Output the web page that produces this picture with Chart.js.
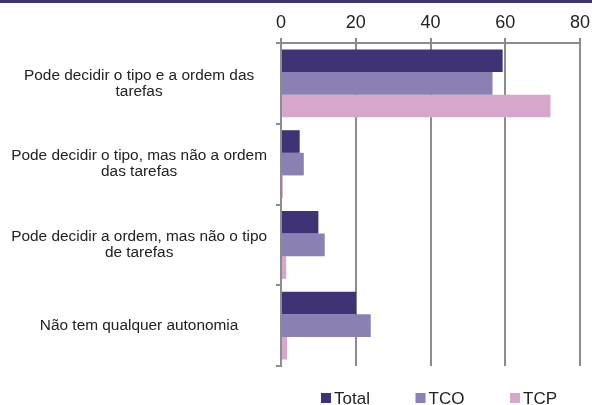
<!DOCTYPE html>
<html>
<head>
<meta charset="utf-8">
<script src="https://cdn.jsdelivr.net/npm/chart.js@4.4.0/dist/chart.umd.min.js"></script>
<style>
  html, body { margin: 0; padding: 0; background: #fff; }
  #wrap { position: relative; width: 592px; height: 405px; }
  #band { position: absolute; left: 0; top: 0; width: 592px; height: 3px; background: #3f3275; }
</style>
</head>
<body>
<div id="wrap">
  <canvas id="chart" width="592" height="405"></canvas>
  <div id="band"></div>
</div>
<script>
// data
const categories = [
  ["Pode decidir o tipo e a ordem das", "tarefas"],
  ["Pode decidir o tipo, mas não a ordem", "das tarefas"],
  ["Pode decidir a ordem, mas não o tipo", "de tarefas"],
  "Não tem qualquer autonomia"
];
const seriesNames = ["Total", "TCO", "TCP"];
const totalValues = [59.3, 5.0, 10.0, 20.1];
const tcoValues = [56.6, 6.1, 11.7, 24.0];
const tcpValues = [72.1, 0.5, 1.4, 1.6];
const xTicks = [0, 20, 40, 60, 80];

const colors = ["#3f3275", "#8b80b3", "#d7a6cb"];
const gridGray = "#8c8c8c";
const fontFamily = "'Liberation Sans', Arial, sans-serif";

Chart.defaults.font.family = fontFamily;
Chart.defaults.color = "#222";

// legend drawn as one row under the plot, like the original
const legendRow = {
  id: "legendRow",
  afterDraw(chart) {
    const ctx = chart.ctx;
    const area = chart.chartArea;
    ctx.save();
    ctx.font = "17px " + fontFamily;
    ctx.textBaseline = "alphabetic";
    chart.data.datasets.forEach((ds, i) => {
      const x = area.left + 40 + i * 94.5;
      ctx.fillStyle = ds.backgroundColor;
      ctx.fillRect(x, 393, 10, 10);
      ctx.fillStyle = "#222";
      ctx.fillText(ds.label, x + 13, 404);
    });
    ctx.restore();
  }
};

const seriesValues = [totalValues, tcoValues, tcpValues];

new Chart(document.getElementById("chart").getContext("2d"), {
  type: "bar",
  data: {
    labels: categories,
    datasets: seriesNames.map((name, i) => ({
      label: name,
      data: seriesValues[i],
      backgroundColor: colors[i],
      borderWidth: 0,
      barPercentage: 1,
      categoryPercentage: 0.84
    }))
  },
  options: {
    indexAxis: "y",
    responsive: false,
    animation: false,
    layout: { padding: { top: 0, right: 12, bottom: 39, left: 0 } },
    plugins: {
      legend: { display: false },
      tooltip: { enabled: false }
    },
    scales: {
      x: {
        type: "linear",
        position: "top",
        min: xTicks[0],
        max: xTicks[xTicks.length - 1],
        afterBuildTicks: (scale) => {
          scale.ticks = xTicks.map((v) => ({ value: v }));
        },
        afterFit: (scale) => {
          scale.height = 43;
          scale.paddingLeft = 0;
          scale.paddingRight = 0;
        },
        grid: {
          color: gridGray,
          lineWidth: 2,
          tickLength: 5,
          drawTicks: true
        },
        border: { color: gridGray, width: 2 },
        ticks: {
          padding: 4,
          color: "#222",
          font: { size: 18 }
        }
      },
      y: {
        afterFit: (scale) => { scale.width = 281; },
        grid: {
          offset: true,
          drawOnChartArea: false,
          drawTicks: true,
          tickLength: 5,
          color: gridGray,
          lineWidth: 2
        },
        border: { color: gridGray, width: 2 },
        ticks: {
          crossAlign: "center",
          padding: 9,
          color: "#222",
          font: { size: 15.4, lineHeight: 1.05 }
        }
      }
    }
  },
  plugins: [legendRow]
});
</script>
</body>
</html>
